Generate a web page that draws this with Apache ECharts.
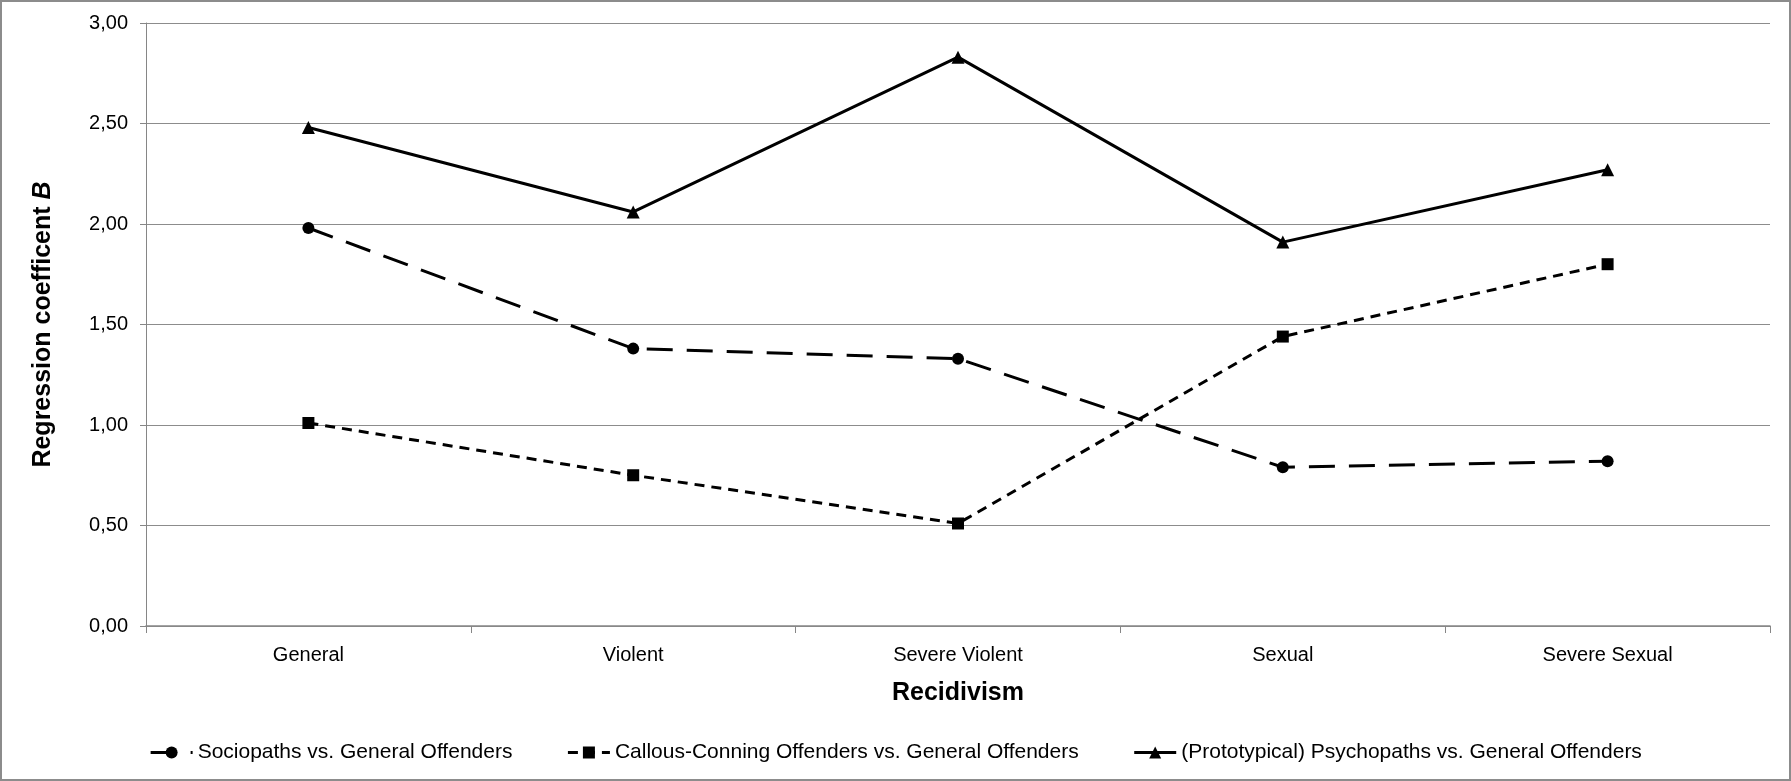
<!DOCTYPE html>
<html lang="en">
<head>
    <meta charset="UTF-8">
    <title>Recidivism</title>
    <script src="https://cdn.jsdelivr.net/npm/echarts@6/dist/echarts.min.js"></script>
    <style>
        html, body { margin: 0; padding: 0; background: #fff; }
        #main { width: 1791px; height: 781px; }
    </style>
</head>
<body>
<div id="main"></div>
<script>
    // categories on the x axis
    var categories = ['General', 'Violent', 'Severe Violent', 'Sexual', 'Severe Sexual'];
    // values
    var sociopaths = [1.98, 1.38, 1.33, 0.79, 0.82];
    var callous = [1.01, 0.75, 0.51, 1.44, 1.80];
    var psychopaths = [2.48, 2.06, 2.83, 1.91, 2.27];
    var seriesNames = [
        'Sociopaths vs. General Offenders',
        'Callous-Conning Offenders vs. General Offenders',
        '(Prototypical) Psychopaths vs. General Offenders'
    ];

    var font = '"Liberation Sans", Arial, sans-serif';

    var option = {
        backgroundColor: '#fff',
        animation: false,
        textStyle: { fontFamily: font },
        graphic: [{
            type: 'rect',
            shape: { x: 1, y: 1, width: 1789, height: 779 },
            style: { fill: null, stroke: '#8c8c8c', lineWidth: 2 },
            silent: true
        }],
        grid: { left: 146, right: 21, top: 23, bottom: 155 },
        legend: {
            bottom: 13,
            left: 'center',
            itemWidth: 42,
            itemHeight: 15,
            itemGap: 54,
            lineStyle: { width: 3 },
            textStyle: { fontSize: 21, color: '#000', fontFamily: font },
            data: seriesNames
        },
        xAxis: {
            type: 'category',
            data: categories,
            boundaryGap: true,
            name: 'Recidivism',
            nameLocation: 'middle',
            nameGap: 55,
            nameTextStyle: { fontSize: 25, fontWeight: 'bold', color: '#000' },
            axisLine: { lineStyle: { color: '#868686', width: 1.5 } },
            axisTick: { show: true, length: 7, lineStyle: { color: '#868686' } },
            axisLabel: { fontSize: 20, color: '#000', margin: 19 }
        },
        yAxis: {
            type: 'value',
            min: 0,
            max: 3,
            interval: 0.5,
            name: '{n|Regression coefficent }{b|B}',
            nameLocation: 'middle',
            nameGap: 90,
            nameTextStyle: {
                rich: {
                    n: { fontSize: 25, fontWeight: 'bold', color: '#000', fontFamily: font },
                    b: { fontSize: 25, fontWeight: 'bold', fontStyle: 'italic', color: '#000', fontFamily: font }
                }
            },
            axisLine: { show: true, lineStyle: { color: '#868686' } },
            axisTick: { show: true, length: 6, lineStyle: { color: '#868686' } },
            axisLabel: {
                fontSize: 20,
                color: '#000',
                margin: 18,
                formatter: function (v) { return v.toFixed(2).replace('.', ','); }
            },
            splitLine: { lineStyle: { color: '#8c8c8c', width: 1.2 } }
        },
        series: [
            {
                name: seriesNames[0],
                type: 'line',
                data: sociopaths,
                symbol: 'circle',
                symbolSize: 12,
                itemStyle: { color: '#000' },
                lineStyle: { color: '#000', width: 3, type: [26, 14] }
            },
            {
                name: seriesNames[1],
                type: 'line',
                data: callous,
                symbol: 'rect',
                symbolSize: 12,
                itemStyle: { color: '#000' },
                lineStyle: { color: '#000', width: 3, type: [10, 7] }
            },
            {
                name: seriesNames[2],
                type: 'line',
                data: psychopaths,
                symbol: 'triangle',
                symbolSize: 13,
                itemStyle: { color: '#000' },
                lineStyle: { color: '#000', width: 3, type: 'solid' }
            }
        ]
    };

    echarts.init(document.getElementById('main')).setOption(option);
</script>
</body>
</html>
